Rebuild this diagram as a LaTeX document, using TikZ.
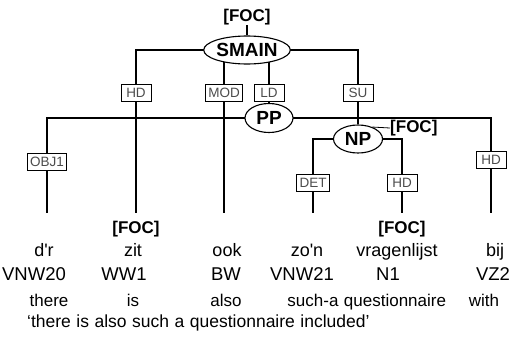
\documentclass[tikz,border=0pt]{standalone}
\usepackage{fontspec}
\setmainfont{Liberation Sans}
\usetikzlibrary{shapes.geometric,backgrounds}
\definecolor{lblgray}{gray}{0.3}
\begin{document}
\begin{tikzpicture}[x=1pt,y=-1pt,
  cat/.style={ellipse,draw,fill=white,line width=1.1pt,inner sep=0pt,
    font=\fontsize{19}{19}\selectfont\bfseries},
  rel/.style={rectangle,draw,fill=white,line width=0.9pt,inner xsep=3pt,
    inner ysep=0pt,minimum height=17pt,minimum width=30pt,text=lblgray,
    font=\fontsize{13.5}{13.5}\selectfont},
  foc/.style={font=\fontsize{17}{17}\selectfont\bfseries,inner sep=0pt},
  word/.style={font=\fontsize{18}{18}\selectfont,inner sep=0pt,anchor=base},
  tag/.style={font=\fontsize{18.5}{18.5}\selectfont,inner sep=0pt,anchor=base},
  gloss/.style={font=\fontsize{17}{17}\selectfont,inner sep=0pt,anchor=base},
  link/.style={line width=1.1pt}
]
\useasboundingbox (0,0) rectangle (511,348);

% phrase nodes
\node[foc] (focS) at (247,17) {[FOC]};
\node[cat,minimum width=71pt,minimum height=28pt] (smain) at (247,50) {SMAIN};
\node[cat,minimum width=48pt,minimum height=29pt] (pp) at (269,118) {PP};
\node[cat,minimum width=49pt,minimum height=28pt] (np) at (358,139) {NP};
\node[foc,anchor=west] (focN) at (390,128) {[FOC]};

% relation labels
\node[rel] (hdS) at (136,93) {HD};
\node[rel] (mod) at (224,93) {MOD};
\node[rel] (ld) at (269,93) {LD};
\node[rel] (su) at (358,93) {SU};
\node[rel] (obj) at (47,162) {OBJ1};
\node[rel] (hdP) at (491,160) {HD};
\node[rel] (det) at (313,183) {DET};
\node[rel] (hdN) at (402,183) {HD};

% lower ends of the branches
\coordinate (e1) at (47,213);
\coordinate (e2) at (136,213);
\coordinate (e3) at (224,213);
\coordinate (e4) at (313,213);
\coordinate (e5) at (402,213);
\coordinate (e6) at (491,213);

% branches, drawn behind the nodes
\begin{pgfonlayer}{background}
\draw[link] (focS) -- (smain);
\draw[link] (smain.center) -| (hdS.north);
\draw[link] (hdS) -- (e2);
\draw[link] (mod |- smain.center) -- (mod) -- (e3);
\draw[link] (ld |- smain.center) -- (ld) -- (pp);
\draw[link] (smain.center) -| (su.north);
\draw[link] (su) -- (np);
\draw[link] (pp.center) -| (obj.north);
\draw[link] (obj) -- (e1);
\draw[link] (pp.center) -| (hdP.north);
\draw[link] (hdP) -- (e6);
\draw[link] (np.center) -| (det.north);
\draw[link] (det) -- (e4);
\draw[link] (np.center) -| (hdN.north);
\draw[link] (hdN) -- (e5);
\end{pgfonlayer}
\draw[line width=0.8pt] (np.40) -- (focN.west);

% focus marks on the leaves
\node[foc] (focW2) at (136,229) {[FOC]};
\node[foc] (focW5) at (402,229) {[FOC]};

% words
\node[word] (w1) at (44,256.5) {d\textquotesingle r};
\node[word] (w2) at (133,256.5) {zit};
\node[word] (w3) at (227,256.5) {ook};
\node[word] (w4) at (307,256.5) {zo\textquotesingle n};
\node[word] (w5) at (397,256.5) {vragenlijst};
\node[word] (w6) at (495,256.5) {bij};

% part-of-speech tags
\node[tag] (t1) at (34,280) {VNW20};
\node[tag] (t2) at (124,280) {WW1};
\node[tag] (t3) at (226,280) {BW};
\node[tag] (t4) at (302,280) {VNW21};
\node[tag] (t5) at (388,280) {N1};
\node[tag] (t6) at (493,280) {VZ2};

% glosses
\node[gloss] (g1) at (49,306) {there};
\node[gloss] (g2) at (133,306) {is};
\node[gloss] (g3) at (226,306) {also};
\node[gloss] (g4) at (313,306) {such-a};
\node[gloss] (g5) at (395,306) {questionnaire};
\node[gloss] (g6) at (484,306) {with};

% free translation
\node[gloss,anchor=base west,font=\fontsize{17.5}{17.5}\selectfont] (tr) at (27,327)
  {\spaceskip=5.5pt `there is also such a questionnaire included'};
\end{tikzpicture}
\end{document}
